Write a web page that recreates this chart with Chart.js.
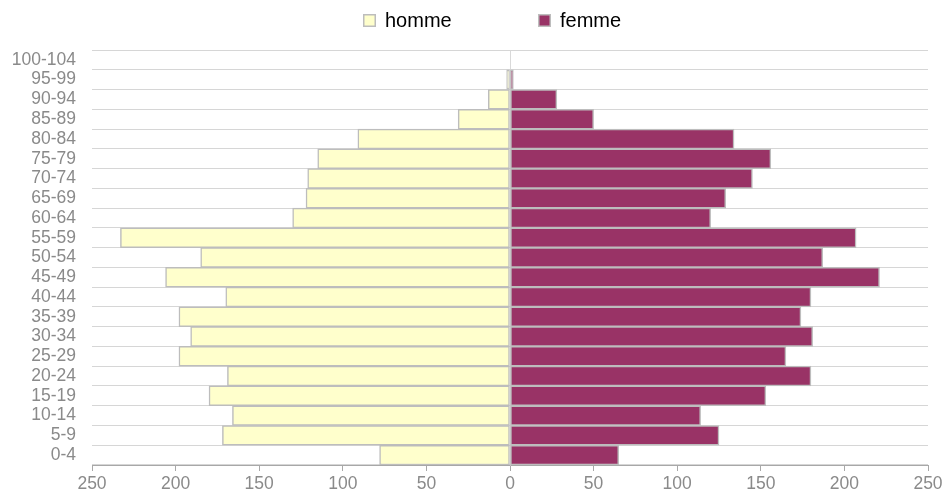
<!DOCTYPE html>
<html lang="fr">
<head>
<meta charset="utf-8">
<title>Pyramide des âges</title>
<script src="https://cdn.jsdelivr.net/npm/chart.js@4.4.1/dist/chart.umd.min.js"></script>
<style>
  html, body { margin: 0; padding: 0; background: #ffffff; }
  canvas { display: block; }
</style>
</head>
<body>
<canvas id="pyramide" width="943" height="504"></canvas>
<script>
// Tranches d'âge, de la plus jeune à la plus âgée
const ageGroups = ['0-4', '5-9', '10-14', '15-19', '20-24', '25-29', '30-34', '35-39',
  '40-44', '45-49', '50-54', '55-59', '60-64', '65-69', '70-74', '75-79', '80-84',
  '85-89', '90-94', '95-99', '100-104'];

// Effectifs par tranche d'âge
const hommes = [78, 172, 166, 180, 169, 198, 191, 198, 170, 206, 185, 233, 130, 122,
  121, 115, 91, 31, 13, 2, 0];
const femmes = [65, 125, 114, 153, 180, 165, 181, 174, 180, 221, 187, 207, 120, 129,
  145, 156, 134, 50, 28, 2, 0];

// Graduations de l'axe horizontal (valeurs absolues de part et d'autre de 0)
const axisLimit = 250;
const axisStep = 50;

const FONT = "'Liberation Sans', Arial, sans-serif";
const GREY_TEXT = '#8a8a8a';

// Légende dessinée en haut : carré de couleur suivi du libellé
const topLegend = {
  id: 'topLegend',
  afterDraw(chart) {
    const { ctx } = chart;
    const startX = 363, pitch = 175, boxTop = 14, box = 13;
    ctx.save();
    ctx.font = '20px ' + FONT;
    ctx.textBaseline = 'alphabetic';
    chart.data.datasets.forEach((ds, i) => {
      const x = startX + i * pitch;
      ctx.fillStyle = ds.borderColor;
      ctx.fillRect(x, boxTop, box, box);
      ctx.fillStyle = ds.backgroundColor;
      ctx.fillRect(x + 1.5, boxTop + 1.5, box - 3, box - 3);
      ctx.fillStyle = '#000000';
      ctx.fillText(ds.label, x + box + 9, boxTop + box);
    });
    ctx.restore();
  }
};

new Chart(document.getElementById('pyramide'), {
  type: 'bar',
  data: {
    labels: ageGroups,
    datasets: [
      {
        label: 'homme',
        data: hommes.map(v => -v),
        backgroundColor: '#FFFFCC',
        borderColor: '#BDBDBD',
        borderWidth: 1.5,
        borderSkipped: false
      },
      {
        label: 'femme',
        data: femmes,
        backgroundColor: '#993366',
        borderColor: '#BDBDBD',
        borderWidth: 1.5,
        borderSkipped: false
      }
    ]
  },
  options: {
    indexAxis: 'y',
    responsive: false,
    animation: false,
    barPercentage: 1,
    categoryPercentage: 1,
    layout: { padding: { top: 50, left: 0, right: 15, bottom: 6 } },
    plugins: {
      legend: { display: false },
      tooltip: { enabled: false }
    },
    scales: {
      x: {
        stacked: true,
        min: -axisLimit,
        max: axisLimit,
        afterFit: scale => { scale.paddingRight = 0; },
        ticks: {
          stepSize: axisStep,
          color: GREY_TEXT,
          font: { family: FONT, size: 17.5 },
          padding: 3,
          callback: v => Math.abs(v)
        },
        grid: {
          color: c => (c.tick && c.tick.value === 0) ? '#d9d9d9' : 'rgba(0,0,0,0)',
          tickColor: '#a8a8a8',
          tickLength: 6,
          lineWidth: 1
        },
        border: { display: true, color: '#a8a8a8', width: 1 }
      },
      y: {
        stacked: true,
        reverse: true,
        afterFit: scale => { scale.width = 92; },
        ticks: {
          color: GREY_TEXT,
          font: { family: FONT, size: 17.5 },
          padding: 16,
          autoSkip: false
        },
        grid: {
          offset: true,
          color: '#d6d6d6',
          lineWidth: 1,
          drawTicks: false
        },
        border: { display: false }
      }
    }
  },
  plugins: [topLegend]
});
</script>
</body>
</html>
